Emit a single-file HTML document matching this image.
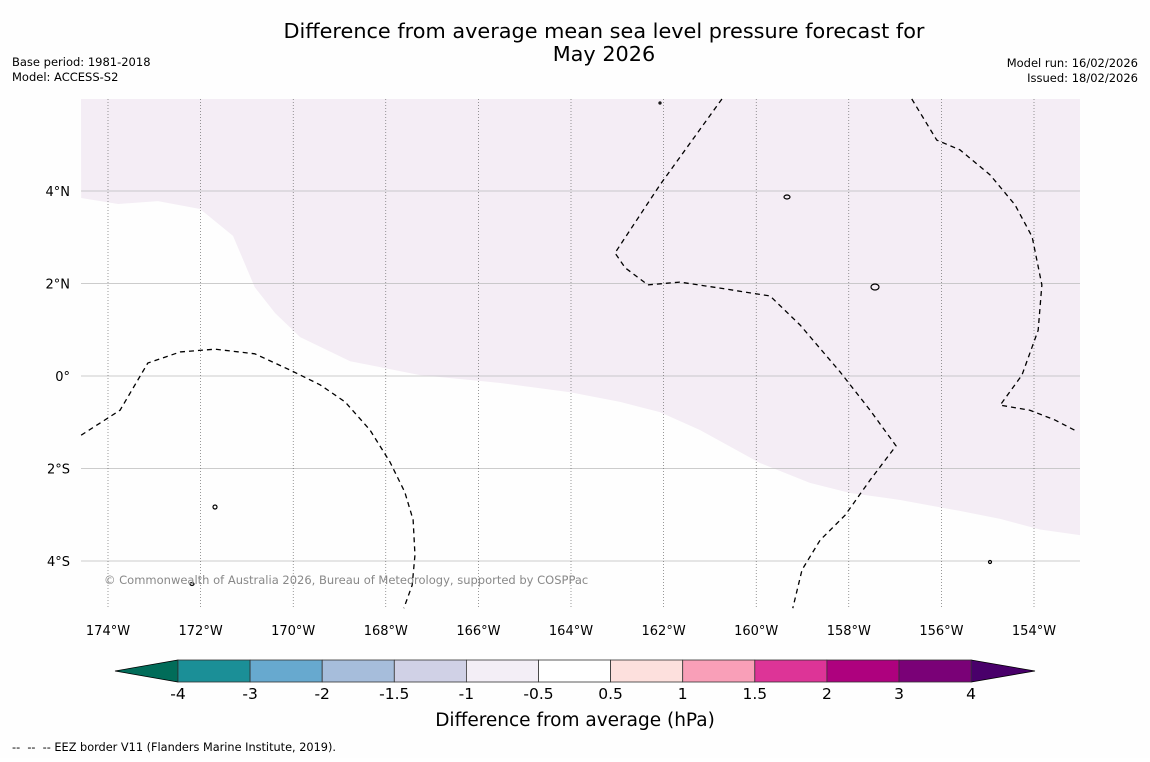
<!DOCTYPE html>
<html><head><meta charset="utf-8"><style>
body{margin:0;background:#fff;width:1150px;height:758px;overflow:hidden;font-family:"DejaVu Sans","Liberation Sans",sans-serif}
svg text{font-family:"DejaVu Sans","Liberation Sans",sans-serif}
</style></head><body>
<svg id="chart" width="1150" height="758" xmlns="http://www.w3.org/2000/svg">
<rect width="1150" height="758" fill="#fefefe"/>
<text x="604" y="38" font-size="20.8" text-anchor="middle">Difference from average mean sea level pressure forecast for</text>
<text x="604" y="61" font-size="20.8" text-anchor="middle">May 2026</text>
<text x="12" y="66" font-size="11.5">Base period: 1981-2018</text>
<text x="12" y="81" font-size="11.5">Model: ACCESS-S2</text>
<text x="1138" y="67" font-size="11.5" text-anchor="end">Model run: 16/02/2026</text>
<text x="1138" y="82" font-size="11.5" text-anchor="end">Issued: 18/02/2026</text>
<g id="map"></g>
<g id="cbar"></g>
<text x="575" y="726" font-size="18.5" text-anchor="middle">Difference from average (hPa)</text>
<text x="12" y="751" font-size="11.3" xml:space="preserve">--  --  -- EEZ border V11 (Flanders Marine Institute, 2019).</text>
</svg>
<script>
const latTicks=[4,2,0,-2,-4];
const latLabels=["4°N","2°N","0°","2°S","4°S"];
const lonTicks=[-174,-172,-170,-168,-166,-164,-162,-160,-158,-156,-154];
const lonLabels=["174°W","172°W","170°W","168°W","166°W","164°W","162°W","160°W","158°W","156°W","154°W"];
const shadeLon=[-174.58,-173.78,-172.92,-172.01,-171.30,-170.83,-170.39,-169.85,-168.77,-167.26,-165.53,-164.02,-162.94,-162.08,-161.21,-159.92,-158.84,-157.97,-156.89,-155.59,-154.73,-153.87,-153.01];
const shadeLat=[3.85,3.72,3.78,3.61,3.03,1.92,1.36,0.84,0.32,0.02,-0.15,-0.35,-0.56,-0.78,-1.17,-1.88,-2.31,-2.53,-2.68,-2.92,-3.09,-3.32,-3.44];
const eezALon=[-174.58,-173.74,-173.14,-172.44,-171.69,-170.83,-170.07,-169.42,-168.88,-168.34,-167.91,-167.59,-167.41,-167.37,-167.43,-167.61];
const eezALat=[-1.28,-0.74,0.28,0.52,0.58,0.48,0.13,-0.19,-0.56,-1.17,-1.86,-2.51,-3.11,-3.87,-4.52,-5.02];
const eezBLon=[-160.74,-162.08,-163.05,-162.83,-162.34,-161.65,-160.78,-159.70,-159.05,-158.19,-157.54,-156.98,-157.54,-158.08,-158.62,-159.01,-159.21];
const eezBLat=[5.99,4.13,2.66,2.34,1.97,2.03,1.90,1.73,1.10,0.09,-0.74,-1.51,-2.25,-3.01,-3.55,-4.19,-5.02];
const eezCLon=[-156.64,-156.10,-155.60,-154.95,-154.41,-154.04,-153.83,-153.91,-154.26,-154.73,-154.09,-153.55,-153.05];
const eezCLat=[5.99,5.10,4.89,4.35,3.70,3.01,1.97,0.99,0.02,-0.63,-0.74,-0.95,-1.21];
const cbLevels=["-4","-3","-2","-1.5","-1","-0.5","0.5","1","1.5","2","3","4"];
const cbColors=["#1b8f97","#67a9cf","#a6bddb","#d0d1e6","#f3eef6","#ffffff","#fde0dd","#f99fb8","#dd3497","#ae017e","#7a0177"];

const NS="http://www.w3.org/2000/svg";
const X0=81,X1=1080,Y0=99,Y1=608;
const x=lon=>108+(lon+174)*46.3;
const y=lat=>376-lat*46.25;
function mk(tag,attrs,parent){const e=document.createElementNS(NS,tag);for(const k in attrs)e.setAttribute(k,attrs[k]);parent.appendChild(e);return e;}
const map=document.getElementById('map');
let d=`M${X0},${Y0} L${X1},${Y0} L${X1},${y(shadeLat[shadeLat.length-1])}`;
for(let i=shadeLon.length-1;i>=0;i--)d+=` L${x(shadeLon[i])},${y(shadeLat[i])}`;
d+=" Z";
const sh=mk('path',{d:d,fill:"#f4edf5"},map);


latTicks.forEach((v,i)=>{
 const l=mk('line',{x1:X0,x2:X1,y1:y(v),y2:y(v),stroke:"#bbb","stroke-width":0.8},map);
 
 
 const t=mk('text',{x:70,y:y(v)+5,"font-size":13,"text-anchor":"end"},map);t.textContent=latLabels[i];
 
 
});
lonTicks.forEach((v,i)=>{
 const l=mk('line',{x1:x(v),x2:x(v),y1:Y0,y2:Y1,stroke:"#555","stroke-width":0.6,"stroke-dasharray":"1,2"},map);
 
 
 const t=mk('text',{x:x(v),y:635,"font-size":13,"text-anchor":"middle"},map);t.textContent=lonLabels[i];
 
 
});
[[eezALon,eezALat],[eezBLon,eezBLat],[eezCLon,eezCLat]].forEach(([lo,la])=>{
 const p=mk('polyline',{points:lo.map((v,i)=>x(v)+","+y(la[i])).join(" "),fill:"none",stroke:"#000","stroke-width":1.3,"stroke-dasharray":"5,4"},map);
 
 
});
[[875,287,4,3],[787,197,3,2],[215,507,2,2],[192,584,2,1.5],[990,562,1.5,1.5],[660,103,1,1]].forEach(a=>{
 const e=mk('ellipse',{cx:a[0],cy:a[1],rx:a[2],ry:a[3],fill:"none",stroke:"#000","stroke-width":1.2},map);
 
 
});
const cr=mk('text',{x:104,y:584,"font-size":11.5,fill:"#888"},map);
cr.textContent="© Commonwealth of Australia 2026, Bureau of Meteorology, supported by COSPPac";


const cb=document.getElementById('cbar');
const cx0=178,cw=72.1,cy0=660,ch=22;
const lt=mk('polygon',{points:`115,671 ${cx0},${cy0} ${cx0},${cy0+ch}`,fill:"#016c59",stroke:"#000","stroke-width":0.8},cb);


const rEnd=cx0+cw*cbColors.length;
const rt=mk('polygon',{points:`${rEnd},${cy0} 1035,671 ${rEnd},${cy0+ch}`,fill:"#49006a",stroke:"#000","stroke-width":0.8},cb);


cbColors.forEach((c,i)=>{
 const r=mk('rect',{x:cx0+i*cw,y:cy0,width:cw,height:ch,fill:c,stroke:"#333","stroke-width":0.8},cb);
 
 
});
cbLevels.forEach((v,i)=>{
 const t=mk('text',{x:cx0+i*cw,y:699,"font-size":15.5,"text-anchor":"middle"},cb);t.textContent=v;
 
 
});
</script>
</body></html>
